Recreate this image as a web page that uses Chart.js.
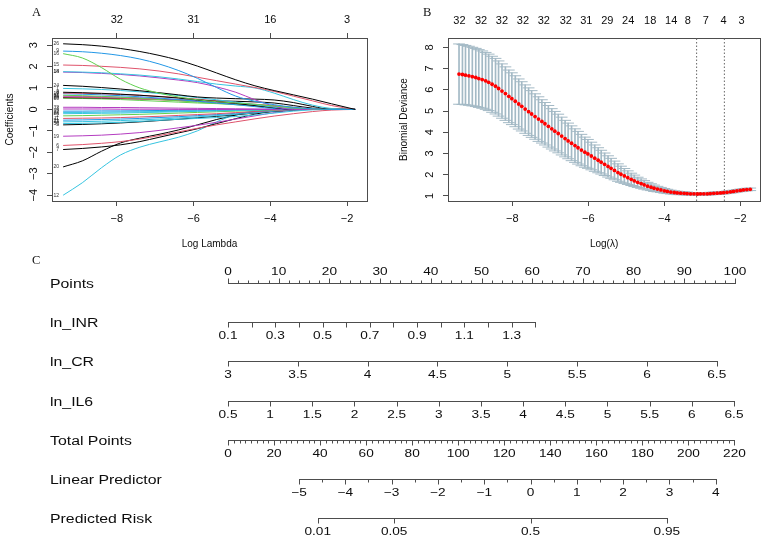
<!DOCTYPE html>
<html>
<head>
<meta charset="utf-8">
<script src="https://cdn.jsdelivr.net/npm/chart.js@4.4.1/dist/chart.umd.min.js"></script>
<style>
  html, body { margin: 0; padding: 0; background: #fff; }
  #page { position: relative; width: 767px; height: 540px; overflow: hidden; background: #fff; }
  .box { position: absolute; }
  .box canvas { display: block; }
  .tag { position: absolute; font-family: 'Liberation Serif', 'DejaVu Serif', serif; font-size: 12.5px; line-height: 12.5px; color: #111; }
</style>
</head>
<body>
<div id="page">
  <div class="box" style="left:0;top:0"><canvas id="coefChart" width="380" height="258"></canvas></div>
  <div class="box" style="left:380px;top:0"><canvas id="cvChart" width="387" height="258"></canvas></div>
  <div class="box" style="left:0;top:255px"><canvas id="nomoChart" width="767" height="285"></canvas></div>
  <div class="tag" style="left:32px;top:6px">A</div>
  <div class="tag" style="left:423px;top:6px">B</div>
  <div class="tag" style="left:32px;top:254px">C</div>
</div>
<script>
// --- panel A: lasso coefficient paths ---
const lambdaA = [-9.4, -8.9, -8.4, -7.9, -7.4, -6.9, -6.4, -5.9, -5.4, -4.9, -4.4, -3.9, -3.4, -2.9, -2.4, -1.79];
const lambdaTicks = [-8, -6, -4, -2];
const nzTopA = ['32', '31', '16', '3'];
const coefTicks = [-4, -3, -2, -1, 0, 1, 2, 3];
const coefVars = ['26', '9', '16', '15', '18', '14', '24', '1', '4', '8', '17', '31', '13', '25', '29', '10',
                  '32', '3', '22', '27', '28', '2', '11', '21', '23', '30', '5', '19', '6', '7', '20', '12'];
const coefColors = ['#000000', '#2297E6', '#61D04F', '#DF536B', '#36c4e0', '#b43cc0', '#000000', '#36c4e0',
                    '#000000', '#DF536B', '#2297E6', '#61D04F', '#b43cc0', '#DF536B', '#000000', '#61D04F',
                    '#b43cc0', '#b43cc0', '#2297E6', '#36c4e0', '#36c4e0', '#61D04F', '#DF536B', '#2297E6',
                    '#36c4e0', '#36c4e0', '#000000', '#b43cc0', '#DF536B', '#000000', '#000000', '#36c4e0'];
const coefPaths = [
  [3.06, 3.02, 2.95, 2.84, 2.70, 2.52, 2.30, 2.02, 1.70, 1.38, 1.10, 0.88, 0.68, 0.48, 0.26, 0],
  [2.72, 2.69, 2.62, 2.51, 2.35, 2.12, 1.82, 1.45, 1.02, 0.62, 0.38, 0.22, 0.10, 0.03, 0, 0],
  [2.60, 2.40, 1.95, 1.40, 1.00, 0.76, 0.58, 0.45, 0.36, 0.30, 0.24, 0.16, 0.08, 0.02, 0, 0],
  [2.07, 2.05, 2.01, 1.96, 1.89, 1.79, 1.66, 1.50, 1.34, 1.18, 1.02, 0.84, 0.62, 0.40, 0.18, 0],
  [1.76, 1.74, 1.71, 1.66, 1.60, 1.52, 1.42, 1.30, 1.18, 1.09, 1.00, 0.76, 0.46, 0.20, 0.04, 0],
  [1.74, 1.72, 1.68, 1.63, 1.56, 1.47, 1.37, 1.25, 1.05, 0.80, 0.45, 0.15, 0, 0, 0, 0],
  [1.12, 1.08, 1.02, 0.95, 0.87, 0.78, 0.68, 0.58, 0.53, 0.50, 0.48, 0.44, 0.32, 0.14, 0, 0],
  [0.98, 0.96, 0.93, 0.88, 0.82, 0.74, 0.65, 0.55, 0.45, 0.34, 0.22, 0.10, 0.02, 0, 0, 0],
  [0.80, 0.78, 0.75, 0.71, 0.66, 0.60, 0.53, 0.45, 0.37, 0.28, 0.18, 0.08, 0, 0, 0, 0],
  [0.76, 0.75, 0.73, 0.70, 0.66, 0.61, 0.55, 0.48, 0.40, 0.31, 0.20, 0.09, 0.01, 0, 0, 0],
  [0.73, 0.71, 0.68, 0.64, 0.59, 0.53, 0.46, 0.38, 0.30, 0.22, 0.13, 0.04, 0, 0, 0, 0],
  [0.66, 0.64, 0.61, 0.57, 0.52, 0.46, 0.40, 0.34, 0.28, 0.22, 0.16, 0.09, 0.03, 0, 0, 0],
  [0.62, 0.61, 0.59, 0.57, 0.54, 0.50, 0.45, 0.39, 0.33, 0.26, 0.18, 0.10, 0.03, 0, 0, 0],
  [0.58, 0.57, 0.55, 0.52, 0.49, 0.45, 0.41, 0.37, 0.33, 0.29, 0.24, 0.18, 0.10, 0.03, 0, 0],
  [0.55, 0.54, 0.53, 0.51, 0.49, 0.47, 0.44, 0.42, 0.40, 0.38, 0.35, 0.30, 0.18, 0.06, 0, 0],
  [0.52, 0.51, 0.49, 0.46, 0.42, 0.38, 0.34, 0.30, 0.27, 0.25, 0.22, 0.16, 0.08, 0.02, 0, 0],
  [0.10, 0.10, 0.09, 0.09, 0.08, 0.07, 0.06, 0.05, 0.04, 0.03, 0.02, 0.01, 0, 0, 0, 0],
  [0.02, 0.02, 0.02, 0.01, 0.01, 0.01, 0, 0, 0, 0, 0, 0, 0, 0, 0, 0],
  [-0.08, -0.08, -0.07, -0.07, -0.06, -0.05, -0.04, -0.03, -0.02, -0.01, 0, 0, 0, 0, 0, 0],
  [-0.14, -0.14, -0.13, -0.12, -0.11, -0.10, -0.08, -0.07, -0.05, -0.03, -0.02, 0, 0, 0, 0, 0],
  [-0.20, -0.19, -0.18, -0.17, -0.15, -0.13, -0.11, -0.09, -0.07, -0.05, -0.03, -0.01, 0, 0, 0, 0],
  [-0.30, -0.29, -0.27, -0.25, -0.23, -0.20, -0.17, -0.14, -0.11, -0.08, -0.05, -0.02, 0, 0, 0, 0],
  [-0.42, -0.41, -0.40, -0.38, -0.35, -0.32, -0.28, -0.24, -0.20, -0.15, -0.10, -0.05, -0.01, 0, 0, 0],
  [-0.50, -0.49, -0.47, -0.45, -0.42, -0.38, -0.34, -0.29, -0.24, -0.18, -0.12, -0.06, -0.01, 0, 0, 0],
  [-0.58, -0.57, -0.55, -0.52, -0.49, -0.45, -0.40, -0.35, -0.29, -0.23, -0.16, -0.08, -0.02, 0, 0, 0],
  [-0.66, -0.65, -0.63, -0.60, -0.56, -0.51, -0.46, -0.42, -0.38, -0.33, -0.26, -0.17, -0.08, -0.02, 0, 0],
  [-0.72, -0.70, -0.67, -0.63, -0.58, -0.52, -0.46, -0.39, -0.32, -0.25, -0.17, -0.09, -0.03, 0, 0, 0],
  [-1.25, -1.23, -1.20, -1.15, -1.08, -0.98, -0.86, -0.74, -0.60, -0.45, -0.30, -0.15, -0.04, 0, 0, 0],
  [-1.68, -1.64, -1.58, -1.50, -1.38, -1.22, -1.05, -0.88, -0.72, -0.58, -0.44, -0.31, -0.20, -0.10, -0.03, 0],
  [-1.87, -1.82, -1.75, -1.65, -1.50, -1.30, -1.10, -0.90, -0.66, -0.43, -0.22, -0.08, -0.02, 0, 0, 0],
  [-2.68, -2.40, -1.95, -1.56, -1.34, -1.16, -0.96, -0.72, -0.47, -0.26, -0.10, -0.02, 0, 0, 0, 0],
  [-4.00, -3.42, -2.72, -2.12, -1.76, -1.52, -1.30, -1.00, -0.58, -0.24, -0.06, 0, 0, 0, 0, 0]
];

// --- panel B: cross-validated binomial deviance ---
const lambdaB = [-9.40, -9.31, -9.23, -9.14, -9.05, -8.96, -8.88, -8.79, -8.70, -8.62,
                 -8.53, -8.44, -8.36, -8.27, -8.18, -8.09, -8.01, -7.92, -7.83, -7.75,
                 -7.66, -7.57, -7.49, -7.40, -7.31, -7.22, -7.14, -7.05, -6.96, -6.88,
                 -6.79, -6.70, -6.61, -6.53, -6.44, -6.35, -6.27, -6.18, -6.09, -6.01,
                 -5.92, -5.83, -5.74, -5.66, -5.57, -5.48, -5.40, -5.31, -5.22, -5.14,
                 -5.05, -4.96, -4.87, -4.79, -4.70, -4.61, -4.53, -4.44, -4.35, -4.27,
                 -4.18, -4.09, -4.00, -3.92, -3.83, -3.74, -3.66, -3.57, -3.48, -3.40,
                 -3.31, -3.22, -3.13, -3.05, -2.96, -2.87, -2.79, -2.70, -2.61, -2.52,
                 -2.44, -2.35, -2.26, -2.18, -2.09, -2.00, -1.92, -1.83, -1.74];
const devMean = [6.74, 6.72, 6.69, 6.66, 6.62, 6.58, 6.53, 6.48, 6.42, 6.35,
                 6.26, 6.17, 6.06, 5.94, 5.82, 5.69, 5.58, 5.46, 5.33, 5.22,
                 5.09, 4.97, 4.86, 4.74, 4.62, 4.51, 4.40, 4.28, 4.16, 4.05,
                 3.94, 3.82, 3.70, 3.59, 3.48, 3.37, 3.27, 3.16, 3.06, 2.98,
                 2.88, 2.78, 2.68, 2.59, 2.49, 2.39, 2.30, 2.20, 2.10, 2.02,
                 1.94, 1.86, 1.78, 1.71, 1.64, 1.58, 1.52, 1.46, 1.41, 1.36,
                 1.32, 1.28, 1.24, 1.21, 1.18, 1.16, 1.14, 1.13, 1.12, 1.11,
                 1.10, 1.10, 1.09, 1.10, 1.10, 1.10, 1.11, 1.12, 1.13, 1.14,
                 1.15, 1.17, 1.19, 1.21, 1.24, 1.26, 1.28, 1.30, 1.31];
const devSd = [1.42, 1.41, 1.40, 1.39, 1.38, 1.37, 1.36, 1.35, 1.34, 1.33,
               1.32, 1.31, 1.30, 1.28, 1.26, 1.24, 1.22, 1.20, 1.18, 1.16,
               1.14, 1.12, 1.10, 1.07, 1.05, 1.02, 1.00, 0.98, 0.95, 0.93,
               0.91, 0.89, 0.86, 0.84, 0.82, 0.79, 0.77, 0.74, 0.71, 0.68,
               0.65, 0.62, 0.59, 0.56, 0.53, 0.50, 0.47, 0.44, 0.41, 0.38,
               0.35, 0.32, 0.29, 0.27, 0.24, 0.22, 0.20, 0.18, 0.16, 0.15,
               0.13, 0.12, 0.11, 0.10, 0.09, 0.08, 0.08, 0.07, 0.07, 0.07,
               0.06, 0.06, 0.06, 0.06, 0.06, 0.06, 0.06, 0.06, 0.06, 0.06,
               0.06, 0.06, 0.06, 0.06, 0.06, 0.06, 0.06, 0.06, 0.06];
const devTicks = [1, 2, 3, 4, 5, 6, 7, 8];
const nzLambdaB = [-9.39, -8.82, -8.27, -7.72, -7.17, -6.59, -6.05, -5.50, -4.95, -4.37, -3.82, -3.38, -2.91, -2.44, -1.97];
const nzTopB = ['32', '32', '32', '32', '32', '32', '31', '29', '24', '18', '14', '8', '7', '4', '3'];
const lambdaPicks = [-3.15, -2.42]; // lambda.min, lambda.1se

// --- panel C: nomogram ---
const nomoNames = ['Points', 'ln_INR', 'ln_CR', 'ln_IL6', 'Total Points', 'Linear Predictor', 'Predicted Risk'];
const pointsLabels = [0, 10, 20, 30, 40, 50, 60, 70, 80, 90, 100];
const inrLabels = [0.1, 0.3, 0.5, 0.7, 0.9, 1.1, 1.3];
const crLabels = [3, 3.5, 4, 4.5, 5, 5.5, 6, 6.5];
const il6Labels = [0.5, 1, 1.5, 2, 2.5, 3, 3.5, 4, 4.5, 5, 5.5, 6, 6.5];
const totalLabels = [0, 20, 40, 60, 80, 100, 120, 140, 160, 180, 200, 220];
const lpLabels = [-5, -4, -3, -2, -1, 0, 1, 2, 3, 4];
const riskLabels = [0.01, 0.05, 0.5, 0.95];
// value range of each scale and the points it spans
const inrRange = [0.1, 1.4], inrPts = [0, 60.6];
const crRange = [3, 6.5], crPts = [0, 96.4];
const il6Range = [0.5, 6.5], il6Pts = [0, 99.8];
const totalRange = [0, 220], totalPts = [0, 99.9];
const lpRange = [-5, 4], lpPts = [14.0, 96.2];

const FONT = "'Liberation Sans', Arial, Helvetica, sans-serif";
const AXIS_COL = '#4d4d4d';
const INK = '#0d0d0d';
const LAM_MIN = -9.69, LAM_MAX = -1.48;

Chart.defaults.font.family = FONT;
Chart.defaults.color = INK;
Chart.defaults.animation = false;
Chart.defaults.events = [];
Chart.defaults.plugins.legend.display = false;
Chart.defaults.plugins.tooltip.enabled = false;

const minus = v => (v < 0 ? '\u2212' + Math.abs(v) : String(v));
const fixTicks = vals => scale => { scale.ticks = vals.map(v => ({ value: v })); };

// R style boxed axes, shared by panels A and B
function panelScales(p) {
  const tickFont = { size: 11 };
  const edge = { drawOnChartArea: false, tickLength: 5, tickColor: AXIS_COL, offset: false };
  return {
    x: {
      type: 'linear', min: LAM_MIN, max: LAM_MAX, offset: false,
      afterBuildTicks: fixTicks(lambdaTicks),
      afterFit: s => { s.height = 57; },
      ticks: { callback: minus, font: tickFont, padding: 6.4, maxRotation: 0, autoSkip: false },
      grid: edge, border: { color: AXIS_COL },
      title: { display: true, text: p.xTitle, font: { size: 10 }, padding: { top: 0, bottom: 7.5 } }
    },
    xTop: {
      type: 'linear', position: 'top', min: LAM_MIN, max: LAM_MAX, offset: false,
      afterBuildTicks: fixTicks(p.topAt),
      afterFit: s => { s.height = 38; },
      ticks: { callback: (v, i) => p.topText[i], font: tickFont, padding: p.topPad, maxRotation: 0, autoSkip: false },
      grid: Object.assign({}, edge, { drawTicks: p.topMarks }), border: { color: AXIS_COL }
    },
    y: {
      type: 'linear', min: p.yMin, max: p.yMax,
      afterBuildTicks: fixTicks(p.yAt),
      afterFit: s => { s.width = p.leftW; },
      ticks: { callback: minus, font: tickFont, minRotation: 90, maxRotation: 90, crossAlign: 'center', padding: p.yPad },
      grid: edge, border: { color: AXIS_COL },
      title: { display: true, text: p.yTitle, font: { size: 10 }, padding: { top: p.yTitlePad, bottom: 0 } }
    },
    yRight: {
      type: 'linear', position: 'right', min: p.yMin, max: p.yMax,
      afterFit: s => { s.width = p.rightW; },
      ticks: { display: false },
      grid: { drawOnChartArea: false, drawTicks: false }, border: { color: AXIS_COL }
    }
  };
}

// small variable numbers at the start of each path
const varTagPlugin = {
  id: 'varTags',
  afterDatasetsDraw(chart) {
    const { ctx, scales: { x, y } } = chart;
    ctx.save();
    ctx.font = '5px ' + FONT;
    ctx.fillStyle = '#333';
    ctx.textAlign = 'right';
    ctx.textBaseline = 'middle';
    const x0 = x.getPixelForValue(lambdaA[0]) - 4;
    coefPaths.forEach((path, i) => ctx.fillText(coefVars[i], x0, y.getPixelForValue(path[0])));
    ctx.restore();
  }
};

new Chart(document.getElementById('coefChart'), {
  type: 'line',
  data: {
    datasets: coefPaths.map((path, i) => ({
      data: path.map((c, j) => ({ x: lambdaA[j], y: c })),
      borderColor: coefColors[i],
      borderWidth: 1,
      pointRadius: 0,
      cubicInterpolationMode: 'monotone',
      fill: false
    }))
  },
  options: {
    responsive: false,
    scales: panelScales({
      xTitle: 'Log Lambda', yTitle: 'Coefficients',
      yMin: -4.27, yMax: 3.33, yAt: coefTicks,
      leftW: 52, rightW: 13, yPad: 6.8, yTitlePad: 4.5,
      topAt: lambdaTicks, topText: nzTopA, topPad: 6.1, topMarks: true
    })
  },
  plugins: [varTagPlugin]
});

const BAR_COL = '#a3b9c5';
new Chart(document.getElementById('cvChart'), {
  type: 'scatter',
  data: {
    datasets: [
      {
        type: 'scatter', order: 0,
        data: lambdaB.map((l, i) => ({ x: l, y: devMean[i] })),
        pointRadius: 1.9, pointBackgroundColor: '#ff0000', pointBorderWidth: 0
      },
      ...lambdaPicks.map(l => ({
        type: 'line', order: 1,
        data: [{ x: l, y: 0.76 }, { x: l, y: 8.44 }],
        borderColor: '#666', borderWidth: 1, borderDash: [1.5, 2], pointRadius: 0
      })),
      {
        type: 'bar', order: 2,
        data: lambdaB.map((l, i) => ({ x: l, y: [devMean[i] - devSd[i], devMean[i] + devSd[i]] })),
        backgroundColor: BAR_COL, borderWidth: 0, barThickness: 1
      },
      {
        type: 'scatter', order: 3,
        data: lambdaB.map((l, i) => ({ x: l, y: devMean[i] + devSd[i] })),
        pointStyle: 'line', pointRadius: 5.9, borderColor: BAR_COL, borderWidth: 1
      },
      {
        type: 'scatter', order: 3,
        data: lambdaB.map((l, i) => ({ x: l, y: devMean[i] - devSd[i] })),
        pointStyle: 'line', pointRadius: 5.9, borderColor: BAR_COL, borderWidth: 1
      }
    ]
  },
  options: {
    responsive: false,
    scales: panelScales({
      xTitle: 'Log(\u03bb)', yTitle: 'Binomial Deviance',
      yMin: 0.76, yMax: 8.44, yAt: devTicks,
      leftW: 68, rightW: 5, yPad: 10.2, yTitlePad: 18.5,
      topAt: nzLambdaB, topText: nzTopB, topPad: 10.6, topMarks: false
    })
  }
});

// nomogram rows: each scale mapped onto the Points axis
const lin = (range, pts) => v => pts[0] + (v - range[0]) * (pts[1] - pts[0]) / (range[1] - range[0]);
const lpToPts = lin(lpRange, lpPts);
const nomoRows = [
  { lo: 0, hi: 100, step: 2, labels: pointsLabels, toPts: v => v, up: true, minor: 3 },
  { lo: inrRange[0], hi: inrRange[1], step: 0.1, labels: inrLabels, toPts: lin(inrRange, inrPts), minor: 5 },
  { lo: crRange[0], hi: crRange[1], step: 0.5, labels: crLabels, toPts: lin(crRange, crPts), minor: 5 },
  { lo: il6Range[0], hi: il6Range[1], step: 0.5, labels: il6Labels, toPts: lin(il6Range, il6Pts), minor: 5 },
  { lo: totalRange[0], hi: totalRange[1], step: 2.5, labels: totalLabels, toPts: lin(totalRange, totalPts), minor: 3 },
  { lo: lpRange[0], hi: lpRange[1], step: 0.5, labels: lpLabels, toPts: lpToPts, minor: 3, fmt: minus },
  { lo: riskLabels[0], hi: riskLabels[riskLabels.length - 1], step: 0, labels: riskLabels,
    toPts: r => lpToPts(Math.log(r / (1 - r))), minor: 5 }
];

function stepTicks(lo, hi, step) {
  const n = Math.round((hi - lo) / step);
  return Array.from({ length: n + 1 }, (_, k) => +(lo + k * step).toFixed(6));
}

function stretchText(ctx, text, x, y, align, sx) {
  ctx.save();
  ctx.translate(x, y);
  ctx.scale(sx, 1);
  ctx.textAlign = align;
  ctx.textBaseline = 'alphabetic';
  ctx.fillText(text, 0, 0);
  ctx.restore();
}

const NAME_X = 50;
const nomogramPlugin = {
  id: 'nomogram',
  afterDraw(chart) {
    const { ctx, scales: { x, y } } = chart;
    ctx.save();
    ctx.strokeStyle = AXIS_COL;
    ctx.fillStyle = INK;
    ctx.lineWidth = 1;
    nomoRows.forEach((row, i) => {
      const yy = Math.round(y.getPixelForValue(i)) + 0.5;
      const px = v => x.getPixelForValue(row.toPts(v));
      const dir = row.up ? -1 : 1;
      ctx.beginPath();
      ctx.moveTo(Math.round(px(row.lo)), yy);
      ctx.lineTo(Math.round(px(row.hi)) + 1, yy);
      const ticks = row.step ? stepTicks(row.lo, row.hi, row.step) : row.labels;
      ticks.forEach(t => {
        const major = row.labels.some(l => Math.abs(l - t) < 1e-6);
        const len = major ? 5 : row.minor;
        const tx = Math.round(px(t)) + 0.5;
        ctx.moveTo(tx, yy);
        ctx.lineTo(tx, yy + dir * len);
      });
      ctx.stroke();
      ctx.font = '11px ' + FONT;
      row.labels.forEach(l => {
        stretchText(ctx, (row.fmt || String)(l), px(l), row.up ? yy - 8.7 : yy + 16.7, 'center', 1.24);
      });
      ctx.font = '12px ' + FONT;
      stretchText(ctx, nomoNames[i], NAME_X, yy + 4.2, 'left', 1.32);
    });
    ctx.restore();
  }
};

new Chart(document.getElementById('nomoChart'), {
  type: 'scatter',
  data: { datasets: [] },
  options: {
    responsive: false,
    layout: { padding: { left: 228, right: 32, top: 28, bottom: 22 } },
    scales: {
      x: { type: 'linear', min: 0, max: 100, display: false },
      y: { type: 'linear', min: 0, max: nomoNames.length - 1, reverse: true, display: false }
    }
  },
  plugins: [nomogramPlugin]
});
</script>
</body>
</html>
